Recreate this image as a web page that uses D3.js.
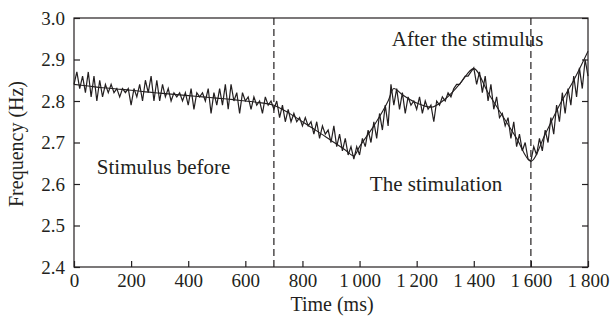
<!DOCTYPE html>
<html><head><meta charset="utf-8">
<script src="https://cdn.jsdelivr.net/npm/d3@7"></script>
<style>body{margin:0;background:#fff}svg{display:block}</style>
</head><body><svg id="c" width="611" height="325"></svg>
<script>
const xTicks = [0,200,400,600,800,1000,1200,1400,1600,1800];
const xTickLabels = ["0","200","400","600","800","1\u2009000","1\u2009200","1\u2009400","1\u2009600","1\u2009800"];
const yTicks = [2.4,2.5,2.6,2.7,2.8,2.9,3.0];
const yTickLabels = ["2.4","2.5","2.6","2.7","2.8","2.9","3.0"];
const markers = [700,1600];
const annotations = ["Stimulus before","The stimulation","After the stimulus"];
const annotationAt = [[80,2.625],[1036,2.584],[1113,2.933]];
const trendTime = [0,50,100,150,200,250,300,350,400,450,500,550,600,650,700,750,800,850,900,950,980,1000,1050,1100,1120,1150,1200,1250,1300,1350,1400,1450,1500,1550,1600,1650,1700,1750,1800];
const trendValue = [2.840,2.836,2.832,2.829,2.826,2.822,2.819,2.816,2.813,2.810,2.807,2.804,2.800,2.796,2.790,2.772,2.750,2.728,2.705,2.682,2.668,2.690,2.740,2.800,2.830,2.815,2.795,2.785,2.805,2.840,2.878,2.820,2.765,2.710,2.655,2.720,2.790,2.850,2.920];
const noisyStart = 0, noisyStep = 10;
const noisyValue = [
2.84,2.87,2.83,2.86,2.82,2.87,2.81,2.86,2.80,2.85,
2.81,2.84,2.82,2.84,2.82,2.83,2.81,2.83,2.82,2.83,
2.79,2.83,2.81,2.84,2.80,2.85,2.82,2.86,2.80,2.85,
2.80,2.84,2.81,2.83,2.80,2.82,2.81,2.82,2.80,2.82,
2.79,2.83,2.78,2.82,2.81,2.82,2.80,2.83,2.77,2.82,
2.79,2.83,2.79,2.84,2.78,2.84,2.80,2.82,2.77,2.82,
2.80,2.81,2.78,2.81,2.79,2.80,2.77,2.81,2.79,2.80,
2.78,2.80,2.76,2.79,2.75,2.78,2.75,2.77,2.75,2.76,
2.74,2.76,2.74,2.75,2.72,2.75,2.71,2.74,2.72,2.73,
2.70,2.74,2.69,2.72,2.68,2.71,2.67,2.69,2.66,2.69,
2.67,2.71,2.69,2.73,2.70,2.75,2.71,2.77,2.73,2.79,
2.74,2.84,2.79,2.83,2.78,2.82,2.77,2.81,2.79,2.80,
2.78,2.81,2.77,2.80,2.78,2.79,2.75,2.80,2.79,2.81,
2.80,2.82,2.81,2.83,2.84,2.84,2.85,2.86,2.86,2.87,
2.88,2.84,2.87,2.82,2.86,2.80,2.84,2.78,2.81,2.76,
2.77,2.74,2.76,2.71,2.75,2.69,2.72,2.68,2.70,2.66,
2.655,2.69,2.67,2.71,2.68,2.73,2.70,2.76,2.72,2.79,
2.75,2.82,2.77,2.83,2.79,2.86,2.81,2.88,2.83,2.90,
2.86];

const FONT = '"Liberation Serif","Times New Roman","Tinos","Noto Serif","DejaVu Serif",serif';
const svg = d3.select("#c");
const m = {l:74, r:588, t:18, b:267};
const x = d3.scaleLinear().domain([0,1800]).range([m.l,m.r]);
const y = d3.scaleLinear().domain([2.4,3.0]).range([m.b,m.t]);
const fsTick = 19, fsText = 21, fsTitle = 20;
const ink = "#231f20";

svg.append("rect").attr("x",m.l).attr("y",m.t).attr("width",m.r-m.l).attr("height",m.b-m.t)
  .attr("fill","none").attr("stroke",ink).attr("stroke-width",1.2);

const gx = svg.append("g").attr("transform",`translate(0,${m.b})`)
  .call(d3.axisBottom(x).tickValues(xTicks).tickSize(-6).tickPadding(7)
    .tickFormat((d,i)=>xTickLabels[i]));
const gy = svg.append("g").attr("transform",`translate(${m.l},0)`)
  .call(d3.axisLeft(y).tickValues(yTicks).tickSize(-6).tickPadding(9)
    .tickFormat((d,i)=>yTickLabels[i]));
const gr = svg.append("g").attr("transform",`translate(${m.r},0)`)
  .call(d3.axisRight(y).tickValues(yTicks).tickSize(-6).tickFormat(""));
[gx,gy,gr].forEach(g=>{
  g.attr("font-family",null).attr("font-size",null);
  g.select(".domain").remove();
  g.selectAll("line").attr("stroke",ink).attr("stroke-width",1.2);
  g.selectAll("text").style("font-family",FONT).style("font-size",fsTick+"px").attr("fill",ink);
});

svg.selectAll(".mk").data(markers).enter().append("line")
  .attr("x1",d=>x(d)).attr("x2",d=>x(d)).attr("y1",m.t).attr("y2",m.b)
  .attr("stroke",ink).attr("stroke-width",1.2).attr("stroke-dasharray","7,4");

const noisy = noisyValue.map((v,i)=>[noisyStart+i*noisyStep, v]);
const trend = trendTime.map((t,i)=>[t, trendValue[i]]);
svg.append("path").datum(trend)
  .attr("d",d3.line().x(d=>x(d[0])).y(d=>y(d[1])).curve(d3.curveMonotoneX))
  .attr("fill","none").attr("stroke",ink).attr("stroke-width",1.1);
svg.append("path").datum(noisy)
  .attr("d",d3.line().x(d=>x(d[0])).y(d=>y(d[1])))
  .attr("fill","none").attr("stroke",ink).attr("stroke-width",1.2);

svg.selectAll(".an").data(annotations).enter().append("text")
  .attr("x",(d,i)=>x(annotationAt[i][0])).attr("y",(d,i)=>y(annotationAt[i][1]))
  .style("font-family",FONT).style("font-size",fsText+"px").attr("fill",ink).text(d=>d);

svg.append("text").attr("x",332).attr("y",311).attr("text-anchor","middle")
  .style("font-family",FONT).style("font-size",fsTitle+"px").attr("fill",ink).text("Time (ms)");
svg.append("text").attr("transform",`translate(23,144) rotate(-90)`)
  .attr("text-anchor","middle").style("font-family",FONT).style("font-size",fsTitle+"px").attr("fill",ink).text("Frequency (Hz)");
</script></body></html>
